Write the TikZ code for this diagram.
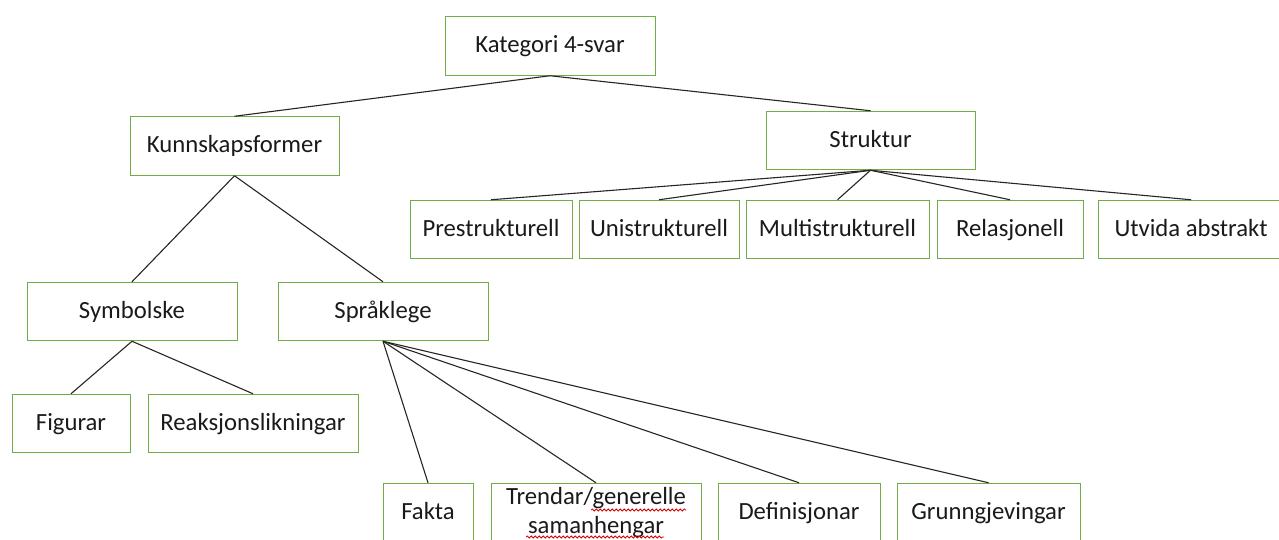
\documentclass[tikz,border=0pt]{standalone}
\usepackage{fontspec}
\setmainfont{Carlito}
\usetikzlibrary{decorations.pathmorphing}
\definecolor{boxgreen}{HTML}{70AD47}
\definecolor{txt}{HTML}{1A1A1A}
\tikzset{
  boxbase/.style={draw=boxgreen, line width=1pt, fill=white, inner sep=0pt,
    minimum height=58.5pt, text=txt, font=\fontsize{24.7}{29.5}\selectfont, align=center},
  box/.style={boxbase, text height=17pt, text depth=4pt},
  link/.style={draw=black!85, line width=1.1pt},
  squiggle/.style={draw=red!85!black, line width=0.8pt,
    decorate, decoration={snake, amplitude=1pt, segment length=4pt}}
}
\begin{document}
\begin{tikzpicture}[x=1pt, y=-1pt]
\clip (0,0) rectangle (1279,539);
\fill[white] (0,0) rectangle (1279,539);
% nodes
\node[box, minimum width=210pt] (kat) at (550,46) {Kategori 4-svar};
\node[box, minimum width=209pt] (kun) at (234.5,146) {Kunnskapsformer};
\node[box, minimum width=209pt] (str) at (870.5,140.5) {Struktur};
\node[box, minimum width=162pt] (pre) at (491,229.5) {Prestrukturell};
\node[box, minimum width=160pt] (uni) at (659,229.5) {Unistrukturell};
\node[box, minimum width=183pt] (mul) at (837.5,229.5) {Multistrukturell};
\node[box, minimum width=146pt] (rel) at (1010,229.5) {Relasjonell};
\node[box, minimum width=186pt] (utv) at (1191,229.5) {Utvida abstrakt};
\node[box, minimum width=210pt] (sym) at (132,311.5) {Symbolske};
\node[box, minimum width=210pt] (spr) at (383,311.5) {Språklege};
\node[box, minimum width=118pt] (fig) at (71,423.5) {Figurar};
\node[box, minimum width=210pt] (rea) at (253,423.5) {Reaksjonslikningar};
\node[box, minimum width=90pt] (fak) at (428,512.5) {Fakta};
\node[boxbase, minimum width=210pt] (tre) at (596,512.5) {Trendar/generelle\\samanhengar};
\node[box, minimum width=162pt] (def) at (799,512.5) {Definisjonar};
\node[box, minimum width=183pt] (gru) at (988.5,512.5) {Grunngjevingar};
% connectors
\draw[link] (kat.south) -- (kun.north);
\draw[link] (kat.south) -- (str.north);
\foreach \c in {pre,uni,mul,rel,utv} \draw[link] (str.south) -- (\c.north);
\draw[link] (kun.south) -- (sym.north);
\draw[link] (kun.south) -- (spr.north);
\draw[link] (sym.south) -- (fig.north);
\draw[link] (sym.south) -- (rea.north);
\foreach \c in {fak,tre,def,gru} \draw[link] (spr.south) -- (\c.north);
% spell-check underlines
\draw[squiggle] (591,510) -- (686,510);
\draw[squiggle] (526,537) -- (664,537);
\end{tikzpicture}
\end{document}
